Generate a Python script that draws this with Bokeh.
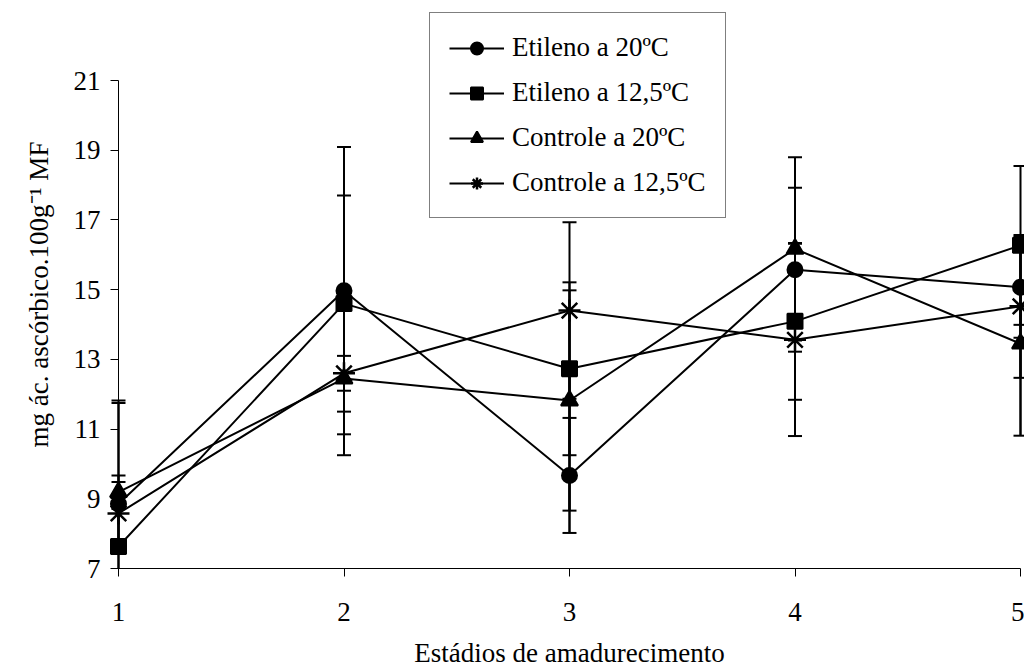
import math
from bokeh.plotting import figure
from bokeh.models import (ColumnDataSource, Whisker, TeeHead, Legend, LegendItem,
                          Label, FixedTicker, Range1d, LinearAxis)
from bokeh.embed import file_html
from bokeh.resources import INLINE

stages = [1, 2, 3, 4, 5]
series_names = ["Etileno a 20ºC", "Etileno a 12,5ºC", "Controle a 20ºC", "Controle a 12,5ºC"]
etileno_20 = [8.85, 14.97, 9.67, 15.57, 15.07]
etileno_20_err = [2.90, 4.12, 1.65, 2.35, 1.45]
etileno_125 = [7.63, 14.60, 12.73, 14.09, 16.27]
etileno_125_err = [4.19, 3.10, 2.48, 2.25, 2.28]
controle_20 = [9.19, 12.45, 11.82, 16.17, 13.45]
controle_20_err = [0.48, 2.20, 3.16, 2.63, 2.64]
controle_125 = [8.58, 12.60, 14.40, 13.56, 14.52]
controle_125_err = [0.90, 0.50, 2.53, 2.76, 2.05]
y_ticks = [7, 9, 11, 13, 15, 17, 19, 21]

FONT = "Liberation Serif"
FS = "27px"

W, H = 1024, 668
# pixel placement of the axes box (layout only)
X0_PX, X1_PX = 118, 1020
YTOP_PX, YBOT_PX = 80, 568
x_lo, x_hi = stages[0], stages[-1]
y_lo, y_hi = y_ticks[0], y_ticks[-1]
sx = (X1_PX - X0_PX) / (x_hi - x_lo)
sy = (YBOT_PX - YTOP_PX) / (y_hi - y_lo)
xr = Range1d(x_lo - X0_PX / sx, x_hi + (W - X1_PX) / sx)
yr = Range1d(y_lo - (H - YBOT_PX) / sy, y_hi + YTOP_PX / sy)

p = figure(width=W, height=H, output_backend="svg", toolbar_location=None,
           x_range=xr, y_range=yr, x_axis_location=None, y_axis_location=None,
           min_border=0)
p.outline_line_color = None
p.background_fill_color = "white"
p.border_fill_color = "white"

xax = LinearAxis(fixed_location=y_lo, bounds=(x_lo, x_hi))
yax = LinearAxis(fixed_location=x_lo, bounds=(y_lo, y_hi))
p.add_layout(xax, "below")
p.add_layout(yax, "left")
p.xgrid.visible = False
p.ygrid.visible = False

for ax in (xax, yax):
    ax.axis_line_color = "black"
    ax.axis_line_width = 1
    ax.major_tick_line_color = "black"
    ax.major_tick_out = 8
    ax.major_tick_in = 0
    ax.minor_tick_line_color = None
    ax.major_label_text_font = FONT
    ax.major_label_text_font_size = FS
    ax.major_label_text_color = "black"

xax.ticker = FixedTicker(ticks=stages)
yax.ticker = FixedTicker(ticks=y_ticks)
xax.major_label_standoff = 26
yax.major_label_standoff = 10
xax.axis_label = "Estádios de amadurecimento"
xax.axis_label_text_font = FONT
xax.axis_label_text_font_size = FS
xax.axis_label_text_font_style = "normal"
xax.axis_label_text_color = "black"
xax.axis_label_standoff = 14

data = [(etileno_20, etileno_20_err, "circle", 15, 2),
        (etileno_125, etileno_125_err, "square", 15, 2),
        (controle_20, controle_20_err, "triangle", 17, 2),
        (controle_125, controle_125_err, "asterisk", 22, 2.5)]

def head():
    return TeeHead(size=14, line_color="black", line_width=2)

items = []
for name, (vals, errs, marker, size, mlw) in zip(series_names, data):
    lo_raw = [v - e for v, e in zip(vals, errs)]
    hi = [v + e for v, e in zip(vals, errs)]
    lo = [max(l, y_lo) for l in lo_raw]  # error bars clipped at the axis minimum
    src = ColumnDataSource(dict(x=stages, y=vals, lo=lo, hi=hi))
    p.add_layout(Whisker(source=src, base="x", upper="hi", lower="lo",
                         line_color="black", line_width=2,
                         upper_head=head(), lower_head=None))
    idx = [i for i, l in enumerate(lo_raw) if l >= y_lo]
    if idx:
        src2 = ColumnDataSource(dict(x=[stages[i] for i in idx], y=[vals[i] for i in idx],
                                     lo=[lo[i] for i in idx]))
        p.add_layout(Whisker(source=src2, base="x", upper="y", lower="lo",
                             line_color="black", line_width=2,
                             upper_head=None, lower_head=head()))
    r1 = p.line("x", "y", source=src, line_color="black", line_width=2)
    r2 = p.scatter("x", "y", source=src, marker=marker, size=size,
                   fill_color="black", line_color="black", line_width=mlw)
    items.append(LegendItem(label=name, renderers=[r1, r2]))

legend = Legend(items=items, location=(429, 450), orientation="vertical",
                label_text_font=FONT, label_text_font_size=FS, label_text_color="black",
                glyph_width=55, glyph_height=30, label_height=30, spacing=14,
                label_standoff=8, padding=19, margin=0,
                border_line_color="black", border_line_width=1,
                background_fill_color="white", background_fill_alpha=1.0)
p.add_layout(legend, "center")

ylab = Label(x=x_lo - (X0_PX - 38) / sx, y=y_lo + (YBOT_PX - 294) / sy,
             x_units="data", y_units="data",
             text="mg ác. ascórbico.100g⁻¹ MF", angle=math.pi / 2,
             text_font=FONT, text_font_size=FS, text_color="black",
             text_align="center", text_baseline="alphabetic")
p.add_layout(ylab)

open("out.html", "w").write(file_html(p, INLINE))
